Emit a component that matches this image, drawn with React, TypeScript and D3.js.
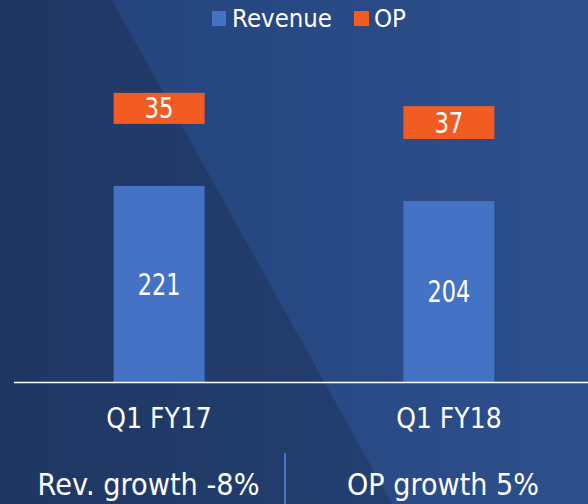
import React from "react";
import * as d3 from "d3";

const categories = ["Q1 FY17", "Q1 FY18"];
const revenue = [221, 204];
const op = [35, 37];
const seriesNames = ["Revenue", "OP"];
const footnotes = ["Rev. growth -8%", "OP growth 5%"];

const W = 588;
const H = 504;
const OP_OFFSET = 70; // visual gap (in data units) between revenue and OP bars
const BLUE = "#4472C4";
const ORANGE = "#F25C22";
const FONT = "'DejaVu Sans', Verdana, sans-serif";

export default function App() {
  const x = d3
    .scaleBand<string>()
    .domain(categories)
    .range([18, 590])
    .paddingInner(0.686)
    .paddingOuter(0.33);
  const y = d3.scaleLinear().domain([0, 350]).range([382, 382 - 350 * 0.887]);
  const bw = x.bandwidth();

  return (
    <svg
      width={W}
      height={H}
      style={{ position: "absolute", left: 0, top: 0, display: "block" }}
      fontFamily={FONT}
    >
      <defs>
        <linearGradient id="bgR" x1="0" x2="1" y1="0" y2="0">
          <stop offset="0" stopColor="#23427a" />
          <stop offset="1" stopColor="#2d4f8c" />
        </linearGradient>
        <linearGradient id="bgL" x1="0" x2="1" y1="0" y2="0">
          <stop offset="0" stopColor="#1f3763" />
          <stop offset="1" stopColor="#233f70" />
        </linearGradient>
      </defs>
      <rect x={0} y={0} width={W} height={H} fill="url(#bgR)" />
      <polygon points={`0,0 112,0 392,504 0,504`} fill="url(#bgL)" />

      {/* legend */}
      <g>
        <rect x={212} y={11} width={14} height={15} fill={BLUE} />
        <text x={232} y={27} fontSize={25} fill="#fff" textLength={100} lengthAdjust="spacingAndGlyphs">
          {seriesNames[0]}
        </text>
        <rect x={354} y={11} width={15} height={15} fill={ORANGE} />
        <text x={374} y={27} fontSize={25} fill="#fff" textLength={32} lengthAdjust="spacingAndGlyphs">
          {seriesNames[1]}
        </text>
      </g>

      {/* bars */}
      {categories.map((c, i) => {
        const x0 = x(c)!;
        const cx = x0 + bw / 2;
        const rTop = y(revenue[i]);
        const oBot = y(revenue[i] + OP_OFFSET);
        const oTop = y(revenue[i] + OP_OFFSET + op[i]);
        const rs = String(revenue[i]);
        const os = String(op[i]);
        return (
          <g key={c}>
            <rect x={x0} y={rTop} width={bw} height={y(0) - rTop} fill={BLUE} />
            <rect x={x0} y={oTop} width={bw} height={oBot - oTop} fill={ORANGE} />
            <text
              x={cx}
              y={(rTop + y(0)) / 2 + 10.8}
              fontSize={29.5}
              fill="#fff"
              textAnchor="middle"
              textLength={rs.length * 14.3}
              lengthAdjust="spacingAndGlyphs"
            >
              {rs}
            </text>
            <text
              x={cx}
              y={(oTop + oBot) / 2 + 10}
              fontSize={27.5}
              fill="#fff"
              textAnchor="middle"
              textLength={os.length * 14.5}
              lengthAdjust="spacingAndGlyphs"
            >
              {os}
            </text>
            <text
              x={cx}
              y={428}
              fontSize={27.5}
              fill="#fff"
              textAnchor="middle"
              textLength={105.5}
              lengthAdjust="spacingAndGlyphs"
            >
              {c}
            </text>
          </g>
        );
      })}

      {/* baseline */}
      <line x1={14} x2={W} y1={382.5} y2={382.5} stroke="#ffffff" strokeWidth={1.6} />

      {/* footnotes */}
      <line x1={285} x2={285} y1={453} y2={H} stroke={BLUE} strokeWidth={2} />
      <text x={148.5} y={495} fontSize={30} fill="#fff" textAnchor="middle" textLength={222} lengthAdjust="spacingAndGlyphs">
        {footnotes[0]}
      </text>
      <text x={443} y={495} fontSize={30} fill="#fff" textAnchor="middle" textLength={192} lengthAdjust="spacingAndGlyphs">
        {footnotes[1]}
      </text>
    </svg>
  );
}
